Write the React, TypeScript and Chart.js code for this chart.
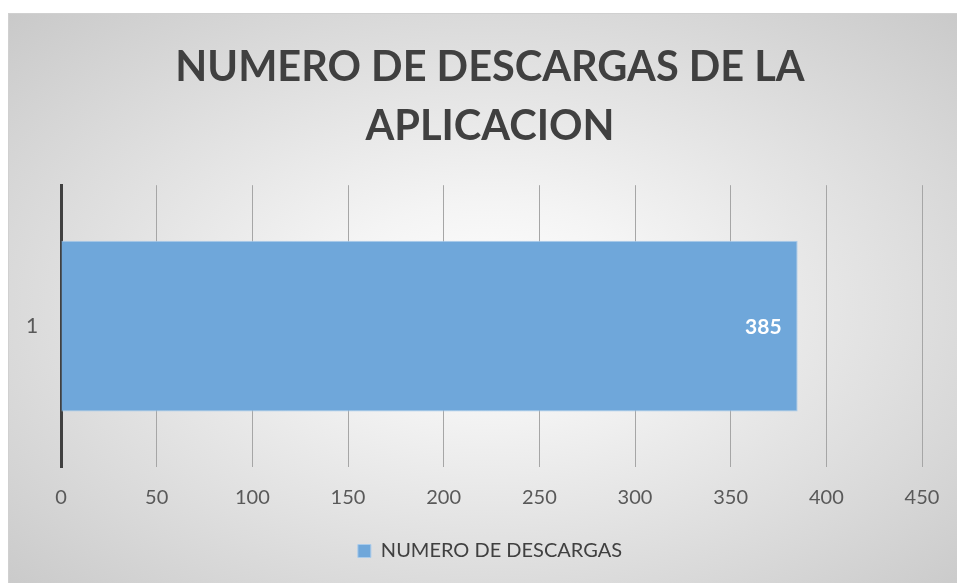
import React, { useEffect, useRef } from "react";
import { Chart, registerables } from "chart.js";

Chart.register(...registerables);

const categories = ["1"];
const seriesName = "NUMERO DE DESCARGAS";
const values = [385];
const titleLines = ["NUMERO DE DESCARGAS DE LA", "APLICACION"];
const xMin = 0;
const xMax = 450;
const xStep = 50;

const FONT = "Lato, 'Open Sans', sans-serif";

const dataLabelPlugin = {
  id: "dataLabelInsideEnd",
  afterDatasetsDraw(chart: any) {
    const ctx = chart.ctx;
    chart.data.datasets.forEach((ds: any, di: number) => {
      const meta = chart.getDatasetMeta(di);
      meta.data.forEach((bar: any, i: number) => {
        ctx.save();
        ctx.font = `bold 21px ${FONT}`;
        ctx.fillStyle = "#ffffff";
        ctx.textAlign = "right";
        ctx.textBaseline = "middle";
        ctx.fillText(String(ds.data[i]), bar.x - 16, bar.y + 1);
        ctx.restore();
      });
    });
  },
};

export default function App() {
  const ref = useRef<HTMLCanvasElement | null>(null);
  useEffect(() => {
    if (!ref.current) return;
    const chart = new Chart(ref.current, {
      type: "bar",
      data: {
        labels: categories,
        datasets: [
          {
            label: seriesName,
            data: values,
            backgroundColor: "#6fa7da",
            borderColor: "#a9cbeb",
            borderWidth: 1,
            barPercentage: 1,
            categoryPercentage: 0.606,
          },
        ],
      },
      options: {
        indexAxis: "y",
        animation: false,
        responsive: false,
        maintainAspectRatio: false,
        layout: { padding: { left: 49, right: 49, top: 0, bottom: 26 } },
        plugins: {
          title: {
            display: true,
            text: titleLines,
            color: "#404040",
            font: { family: FONT, size: 41.5, weight: "bold", lineHeight: 1.4 },
            padding: { top: 25, bottom: 30 },
          },
          legend: {
            position: "bottom",
            labels: {
              color: "#404040",
              font: { family: FONT, size: 20 },
              boxWidth: 13,
              boxHeight: 13,
              padding: 12,
            },
          },
          tooltip: { enabled: false },
        },
        scales: {
          x: {
            min: xMin,
            max: xMax,
            ticks: { stepSize: xStep, color: "#595959", font: { family: FONT, size: 20 }, padding: 19 },
            grid: { color: "#a6a6a6", lineWidth: 1, drawTicks: false },
            border: { display: false },
          },
          y: {
            afterFit: (scale: any) => {
              scale.width = 3;
            },
            ticks: {
              color: "#595959",
              font: { family: FONT, size: 21 },
              mirror: true,
              crossAlign: "near",
              padding: -35,
            },
            grid: { display: false, drawTicks: false },
            border: { display: true, color: "#404040", width: 3 },
          },
        },
      },
      plugins: [dataLabelPlugin],
    });
    return () => chart.destroy();
  }, []);

  return (
    <div style={{ position: "absolute", left: 8, top: 13, width: 949, height: 570, overflow: "hidden" }}>
      <div
        style={{
          width: 964,
          height: 585,
          border: "1px solid #d0d0d0",
          boxSizing: "border-box",
          background: "radial-gradient(ellipse farthest-corner at 50% 50%, #ffffff 0%, #f4f4f4 25%, #c9c9c9 100%)",
        }}
      >
        <canvas ref={ref} width={962} height={583} style={{ display: "block" }} />
      </div>
    </div>
  );
}
